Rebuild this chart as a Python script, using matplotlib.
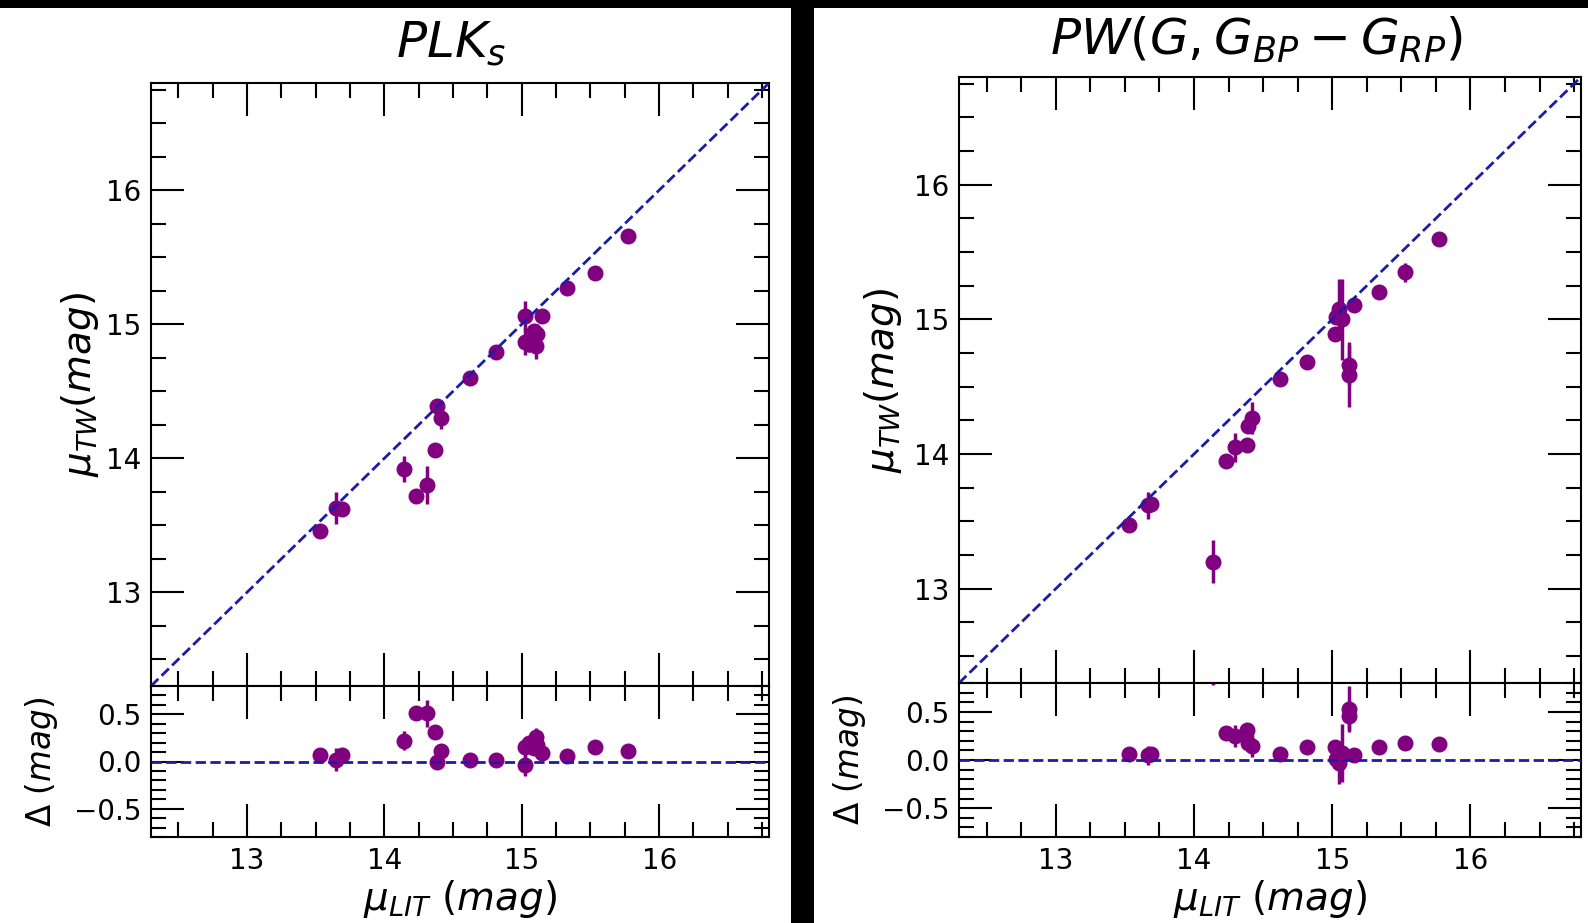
import numpy as np
import matplotlib
matplotlib.use("Agg")
import matplotlib.pyplot as plt
from matplotlib.patches import Rectangle
from matplotlib.ticker import MultipleLocator

# PL(Ks) panel: literature vs this-work distance moduli
mu_lit_plk = [13.53, 13.65, 13.69, 14.14, 14.23, 14.31, 14.37, 14.385, 14.41, 14.62, 14.81,
              15.02, 15.02, 15.05, 15.09, 15.10, 15.11, 15.15, 15.33, 15.53, 15.77]
mu_tw_plk = [13.46, 13.63, 13.62, 13.92, 13.72, 13.80, 14.06, 14.39, 14.30, 14.60, 14.79,
             15.06, 14.87, 14.85, 14.95, 14.84, 14.93, 15.06, 15.27, 15.38, 15.66]
err_plk = [0.02, 0.12, 0.04, 0.10, 0.03, 0.14, 0.03, 0.03, 0.08, 0.02, 0.02,
           0.11, 0.10, 0.06, 0.05, 0.10, 0.07, 0.03, 0.02, 0.03, 0.02]

# PW(G, GBP-GRP) panel
mu_lit_pw = [13.53, 13.67, 13.69, 14.14, 14.23, 14.30, 14.38, 14.39, 14.42, 14.62, 14.82,
             15.02, 15.03, 15.05, 15.07, 15.12, 15.12, 15.16, 15.34, 15.53, 15.77]
mu_tw_pw = [13.47, 13.62, 13.63, 13.20, 13.95, 14.05, 14.07, 14.21, 14.27, 14.56, 14.68,
            14.89, 15.02, 15.08, 15.00, 14.66, 14.59, 15.11, 15.20, 15.35, 15.60]
err_pw = [0.02, 0.10, 0.03, 0.16, 0.02, 0.11, 0.03, 0.05, 0.12, 0.04, 0.02,
          0.03, 0.05, 0.22, 0.30, 0.15, 0.24, 0.03, 0.02, 0.07, 0.04]

titles = [r"$PLK_s$", r"$PW(G,G_{BP}-G_{RP})$"]

W, H = 1588, 923
fig = plt.figure(figsize=(W / 100, H / 100), dpi=100, facecolor="black")

# two white panels on black, like two images pasted side by side
fig.patches.append(Rectangle((0, 0), 791 / W, (H - 8) / H, transform=fig.transFigure,
                             facecolor="white", edgecolor="none", zorder=-5))
fig.patches.append(Rectangle((814 / W, 0), 1 - 814 / W, (H - 8) / H, transform=fig.transFigure,
                             facecolor="white", edgecolor="none", zorder=-5))

# pixel boxes: (left, right, main top, main bottom, resid bottom)
boxes = [(151, 769, 83, 686, 837), (959, 1581, 77, 683, 837)]
title_x = [451, 1256]
title_y = [44, 40]

lim = (12.3, 16.8)
line_col = "#1c1ca6"
pt_col = "purple"


def style(ax, major_y, minor_y):
    ax.set_facecolor("white")
    ax.xaxis.set_major_locator(MultipleLocator(1))
    ax.xaxis.set_minor_locator(MultipleLocator(0.25))
    ax.yaxis.set_major_locator(MultipleLocator(major_y))
    ax.yaxis.set_minor_locator(MultipleLocator(minor_y))
    ax.tick_params(which="both", direction="in", top=True, right=True, labelsize=20, pad=7)
    ax.tick_params(which="major", length=24, width=1.5)
    ax.tick_params(which="minor", length=10.5, width=1.5)
    for s in ax.spines.values():
        s.set_linewidth(1.5)


for i, (lit, tw, err) in enumerate([(mu_lit_plk, mu_tw_plk, err_plk),
                                     (mu_lit_pw, mu_tw_pw, err_pw)]):
    l, r, t, mb, rb = boxes[i]
    ax = fig.add_axes([l / W, (H - mb) / H, (r - l) / W, (mb - t) / H])
    axr = fig.add_axes([l / W, (H - rb) / H, (r - l) / W, (rb - mb) / H], sharex=ax)

    lit = np.array(lit)
    tw = np.array(tw)
    delta = lit - tw

    ax.plot(lim, lim, "--", color=line_col, lw=2, zorder=3)
    ax.errorbar(lit, tw, yerr=err, fmt="o", color=pt_col, ms=10.5, elinewidth=2.5,
                capsize=0, zorder=2)
    ax.set_xlim(lim)
    ax.set_ylim(lim)
    style(ax, 1, 0.25)
    ax.tick_params(labelbottom=False)

    axr.axhline(0, ls="--", color=line_col, lw=2, zorder=3)
    axr.errorbar(lit, delta, yerr=err, fmt="o", color=pt_col, ms=10.5, elinewidth=2.5,
                 capsize=0, zorder=2)
    axr.set_ylim(-0.8, 0.8)
    style(axr, 0.5, 0.1)

    ax.set_ylabel(r"$\mu_{TW}(mag)$", fontsize=28, va="center")
    axr.set_ylabel(r"$\Delta\ (mag)$", fontsize=23.5, va="center")
    axr.set_xlabel(r"$\mu_{LIT}\ (mag)$", fontsize=28, va="center")
    w = r - l
    ax.yaxis.set_label_coords((80 + (i * 803) - l) / w, 0.5)
    axr.yaxis.set_label_coords((41 + (i * 808) - l) / w, 0.5)
    axr.xaxis.set_label_coords(0.5, -(899 - rb) / (rb - mb))

    fig.text(title_x[i] / W, 1 - title_y[i] / H, titles[i], fontsize=36,
             ha="center", va="center")

fig.savefig("out.png", dpi=100, facecolor=fig.get_facecolor())
